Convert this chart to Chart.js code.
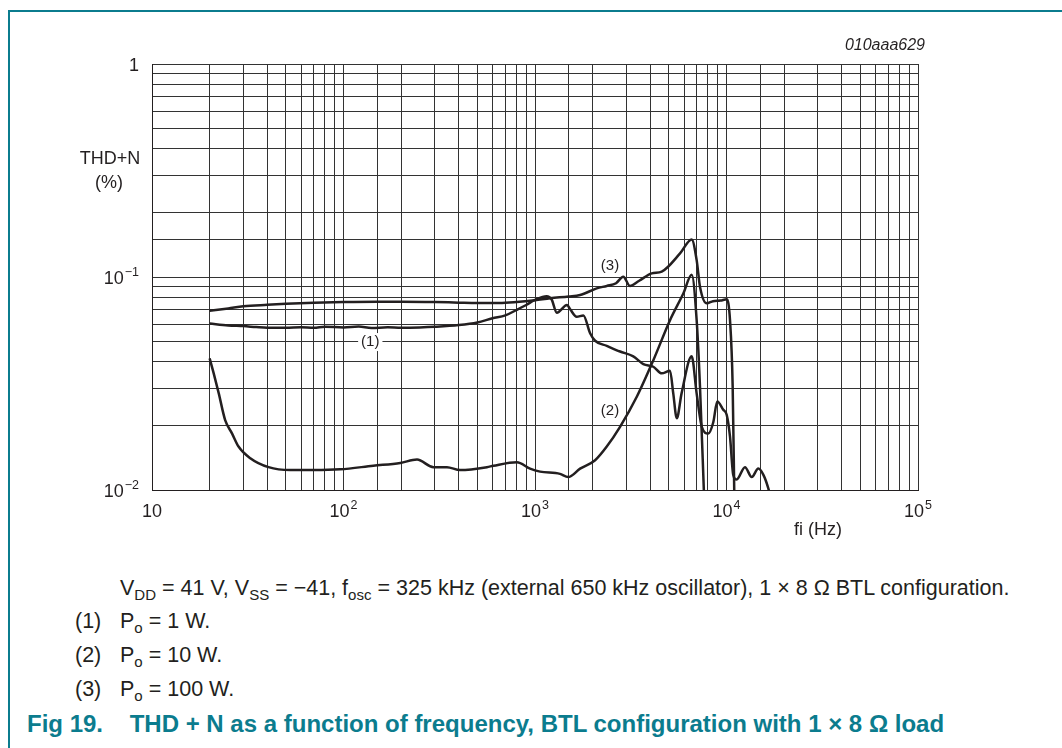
<!DOCTYPE html>
<html>
<head>
<meta charset="utf-8">
<script src="https://cdn.jsdelivr.net/npm/chart.js@4/dist/chart.umd.min.js"></script>
<style>
  body { margin: 0; background: #fff; width: 1062px; height: 748px; overflow: hidden; position: relative;
         font-family: 'Liberation Sans', Arial, sans-serif; color: #231f20; }
  .frame { position: absolute; left: 8px; top: 10px; width: 1060px; height: 740px;
           border-top: 2px solid #0b7c8e; border-left: 2px solid #0b7c8e; }
  #wrap { position: absolute; left: 0; top: 0; width: 1062px; height: 560px; }
  .t { position: absolute; white-space: nowrap; line-height: 1.15; }
  sub { font-size: 70%; vertical-align: -0.3em; line-height: 0; }
</style>
</head>
<body>
<div class="frame"></div>
<div id="wrap"><canvas id="thdChart" width="1062" height="560"></canvas></div>

<div class="t" style="right:137px; top:36px; font-size:16px; font-style:italic;">010aaa629</div>
<div class="t" style="left:110px; top:148px; font-size:18px; transform:translateX(-50%);">THD+N</div>
<div class="t" style="left:109px; top:172px; font-size:18px; transform:translateX(-50%);">(%)</div>
<div class="t" style="left:818px; top:519px; font-size:18px; transform:translateX(-50%);">fi (Hz)</div>

<div class="t" style="left:120px; top:576px; font-size:21.5px;">V<sub>DD</sub> = 41 V, V<sub>SS</sub> = &minus;41, f<sub>osc</sub> = 325 kHz (external 650 kHz oscillator), 1 &times; 8 &Omega; BTL configuration.</div>
<div class="t" style="left:75px; top:609px; font-size:21.5px;">(1)</div>
<div class="t" style="left:120px; top:609px; font-size:21.5px;">P<sub>o</sub> = 1 W.</div>
<div class="t" style="left:75px; top:643px; font-size:21.5px;">(2)</div>
<div class="t" style="left:120px; top:643px; font-size:21.5px;">P<sub>o</sub> = 10 W.</div>
<div class="t" style="left:75px; top:677px; font-size:21.5px;">(3)</div>
<div class="t" style="left:120px; top:677px; font-size:21.5px;">P<sub>o</sub> = 100 W.</div>
<div class="t" style="left:27px; top:710px; font-size:24px; font-weight:bold; color:#0b7c8e;">Fig 19.&nbsp;&nbsp;&nbsp;&nbsp;THD + N as a function of frequency, BTL configuration with 1 &times; 8 &Omega; load</div>

<script>
// curve (1): Po = 1 W
const freq1 = [20, 25, 30, 35, 40, 50, 60, 70, 80, 100, 120, 140, 170, 200, 250, 300, 400, 500, 600, 700, 800, 900,
  1000, 1150, 1220, 1300, 1470, 1530, 1650, 1790, 1940, 2060, 2370, 2780, 3260, 3680, 4150, 4590, 5070, 5270,
  5500, 5830, 6580, 6980, 7430, 8030, 8530, 8950, 9620, 10030, 10430, 10840, 11300, 12490, 13540, 14660, 15560,
  16520, 17000];
const thd1 = [0.0605, 0.0592, 0.0588, 0.0582, 0.0578, 0.0578, 0.0581, 0.0577, 0.0584, 0.0580, 0.0585, 0.0576,
  0.0581, 0.0578, 0.0580, 0.0584, 0.0595, 0.0612, 0.0640, 0.0660, 0.0700, 0.0739,
  0.0780, 0.0813, 0.0786, 0.0680, 0.0739, 0.0703, 0.0650, 0.0660, 0.0544, 0.0502, 0.0475, 0.0447, 0.0424, 0.0390,
  0.0379, 0.0353, 0.0363, 0.0285, 0.0217, 0.0285, 0.0424, 0.0285, 0.0198, 0.0184, 0.0208, 0.0260, 0.0238, 0.0225,
  0.0178, 0.0118, 0.0112, 0.0128, 0.0115, 0.0126, 0.0118, 0.0102, 0.0092];

// curve (2): Po = 10 W
const freq2 = [20, 21, 22.3, 24.1, 26.2, 28.3, 32.6, 40.6, 52.7, 70, 96, 143, 198, 242, 295, 347, 406, 561, 607,
  804, 942, 1063, 1350, 1490, 1720, 2060, 2370, 2780, 3400, 4150, 5070, 5950, 6580, 6985, 7270, 7640];
const thd2 = [0.0415, 0.0353, 0.0285, 0.0213, 0.0184, 0.0160, 0.0141, 0.0128, 0.0124, 0.0124, 0.0125, 0.0130,
  0.0134, 0.0139, 0.0128, 0.0128, 0.0124, 0.0128, 0.0130, 0.0135, 0.0126, 0.0122, 0.0119, 0.0115, 0.0126,
  0.0138, 0.0160, 0.0198, 0.0274, 0.0407, 0.0627, 0.0836, 0.1024, 0.0627, 0.0306, 0.0092];

// curve (3): Po = 100 W
const freq3 = [20, 25, 30, 40, 50, 70, 100, 150, 200, 300, 400, 500, 650, 800, 1000, 1200, 1500, 1720, 2100, 2370,
  2650, 2890, 3130, 3500, 4070, 4590, 5720, 6580, 6985, 7270, 7890, 8500, 9300, 10030, 10430, 10770, 11000];
const thd3 = [0.0695, 0.0712, 0.0728, 0.0740, 0.0748, 0.0757, 0.0763, 0.0766, 0.0766, 0.0763, 0.0758, 0.0755,
  0.0755, 0.0763, 0.0778, 0.0795, 0.0810, 0.0823, 0.0884, 0.0908, 0.0935, 0.1004, 0.0908, 0.0960, 0.1040,
  0.1060, 0.1290, 0.1500, 0.1200, 0.0900, 0.0752, 0.0770, 0.0775, 0.0786, 0.0627, 0.0306, 0.0085];

// curve labels, anchored in data units
const labelText = ['(1)', '(2)', '(3)'];
const labelFreq = [138, 2465, 2465];
const labelThd = [0.0495, 0.0235, 0.1127];

const FONT = '"Liberation Sans", Arial, sans-serif';

// split a decade value into base and exponent text, or null for minor ticks
function decadeParts(v) {
  let e = Math.log10(v);
  let r = Math.round(e);
  if (Math.abs(e - r) > 1e-6) return null;
  if (r === 0) return ['1', ''];
  if (r === 1) return ['10', ''];
  return ['10', String(r).replace('-', '\u2212')];
}

function toPoints(fs, vs) {
  return fs.map((f, i) => ({ x: f, y: vs[i] }));
}

const lineStyle = {
  borderColor: '#231f20',
  borderWidth: 2.5,
  pointRadius: 0,
  fill: false,
  cubicInterpolationMode: 'monotone'
};

// tick labels with real superscript exponents, placed from the scales' own ticks
const decadeTicks = {
  id: 'decadeTicks',
  afterDraw(chart) {
    let ctx = chart.ctx;
    let xs = chart.scales.x, ys = chart.scales.y;
    ctx.save();
    ctx.fillStyle = '#231f20';
    ctx.textBaseline = 'alphabetic';
    ctx.textAlign = 'left';
    const draw = (parts, left, base) => {
      ctx.font = '18px ' + FONT;
      ctx.fillText(parts[0], left, base);
      let w = ctx.measureText(parts[0]).width;
      if (parts[1]) {
        ctx.font = '12.5px ' + FONT;
        ctx.fillText(parts[1], left + w + 1, base - 8);
      }
    };
    const width = parts => {
      ctx.font = '18px ' + FONT;
      let w = ctx.measureText(parts[0]).width;
      if (parts[1]) {
        ctx.font = '12.5px ' + FONT;
        w += 1 + ctx.measureText(parts[1]).width;
      }
      return w;
    };
    xs.ticks.forEach(t => {
      let p = decadeParts(t.value);
      if (!p) return;
      let px = xs.getPixelForValue(t.value);
      let w = width(p);
      draw(p, px - w / 2, chart.chartArea.bottom + 27);
    });
    ys.ticks.forEach(t => {
      let p = decadeParts(t.value);
      if (!p) return;
      let py = ys.getPixelForValue(t.value);
      let w = width(p);
      draw(p, chart.chartArea.left - 13 - w, py + 6.5);
    });
    ctx.restore();
  }
};

const curveLabels = {
  id: 'curveLabels',
  afterDatasetsDraw(chart) {
    let ctx = chart.ctx;
    let xs = chart.scales.x, ys = chart.scales.y;
    ctx.save();
    ctx.font = '15px ' + FONT;
    ctx.textAlign = 'center';
    ctx.textBaseline = 'middle';
    labelText.forEach((t, i) => {
      let px = xs.getPixelForValue(labelFreq[i]);
      let py = ys.getPixelForValue(labelThd[i]);
      let w = ctx.measureText(t).width;
      ctx.fillStyle = '#fff';
      ctx.fillRect(px - w / 2 - 3, py - 9, w + 6, 18);
      ctx.fillStyle = '#231f20';
      ctx.fillText(t, px, py);
    });
    ctx.restore();
  }
};

let ctx = document.getElementById('thdChart').getContext('2d');
let thdChart = new Chart(ctx, {
  type: 'line',
  data: {
    datasets: [
      Object.assign({ label: '(1)', data: toPoints(freq1, thd1) }, lineStyle),
      Object.assign({ label: '(2)', data: toPoints(freq2, thd2) }, lineStyle),
      Object.assign({ label: '(3)', data: toPoints(freq3, thd3) }, lineStyle)
    ]
  },
  options: {
    responsive: false,
    animation: false,
    layout: { padding: { top: 64, right: 144, bottom: 30, left: 0 } },
    plugins: { legend: { display: false }, tooltip: { enabled: false } },
    scales: {
      x: {
        type: 'logarithmic',
        min: 10,
        max: 100000,
        afterFit: s => { s.height = 40; },
        grid: { color: '#333', lineWidth: 1, drawTicks: false },
        border: { color: '#231f20', width: 1 },
        ticks: { autoSkip: false, display: false }
      },
      y: {
        type: 'logarithmic',
        min: 0.01,
        max: 1,
        afterFit: s => { s.width = 152; },
        grid: { color: '#333', lineWidth: 1, drawTicks: false },
        border: { color: '#231f20', width: 1 },
        ticks: { autoSkip: false, display: false }
      }
    }
  },
  plugins: [curveLabels, decadeTicks]
});
</script>
</body>
</html>
